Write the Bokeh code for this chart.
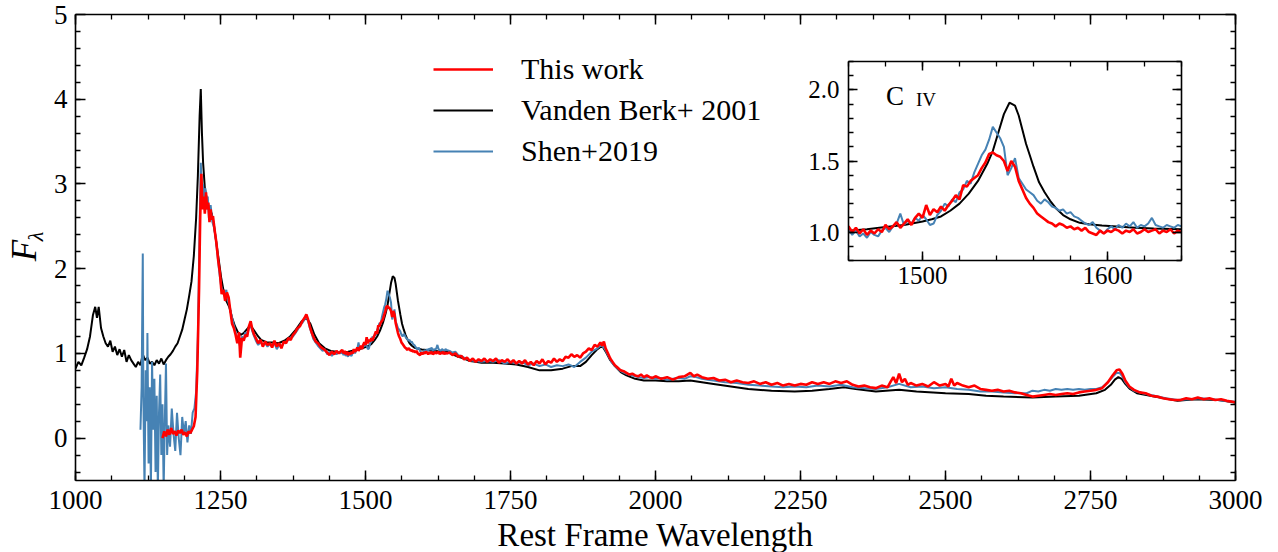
import math
from bokeh.plotting import figure
from bokeh.models import (Range1d, FixedTicker, LinearAxis, Legend, LegendItem,
                          CustomJSTickFormatter)
from bokeh.core.properties import value
from bokeh.layouts import column
from bokeh.embed import file_html
from bokeh.resources import INLINE

FONT = "Liberation Serif"

# ---------------- data ----------------
vdb_wave = [1000, 1005, 1010, 1015, 1020, 1025, 1030, 1034, 1037, 1040, 1044, 1048, 1052, 1056,
            1060, 1064, 1068, 1072, 1076, 1080, 1084, 1088, 1092, 1096, 1100, 1104, 1108, 1112,
            1116, 1120, 1124, 1128, 1132, 1136, 1140, 1144, 1148, 1152, 1156, 1160, 1164, 1168,
            1172, 1176, 1180, 1184, 1188, 1192, 1196, 1200, 1204, 1208, 1211, 1214, 1216, 1218,
            1220, 1223, 1227, 1231, 1235, 1239, 1243, 1247, 1251, 1255, 1260, 1265, 1270, 1275,
            1280, 1285, 1290, 1295, 1300, 1305, 1310, 1315, 1320, 1330, 1340, 1350, 1360, 1370,
            1380, 1390, 1398, 1405, 1412, 1420, 1430, 1440, 1450, 1460, 1470, 1480, 1490, 1500,
            1505, 1510, 1515, 1520, 1525, 1530, 1535, 1538, 1541, 1544, 1547, 1550, 1552, 1554,
            1556, 1558, 1560, 1563, 1566, 1569, 1572, 1576, 1580, 1585, 1590, 1597, 1605, 1615,
            1625, 1640, 1650, 1660, 1670, 1680, 1690, 1700, 1720, 1740, 1760, 1780, 1800, 1820,
            1840, 1855, 1870, 1880, 1890, 1900, 1908, 1915, 1922, 1930, 1940, 1950, 1965, 1980,
            2000, 2020, 2040, 2060, 2080, 2100, 2130, 2160, 2200, 2240, 2270, 2300, 2325, 2345,
            2380, 2420, 2450, 2500, 2540, 2570, 2600, 2650, 2690, 2730, 2760, 2775, 2785, 2792,
            2798, 2804, 2810, 2818, 2830, 2860, 2900, 2930, 2970, 3000]
vdb_flux = [0.82, 0.90, 0.86, 0.95, 1.05, 1.20, 1.45, 1.55, 1.42, 1.55, 1.30, 1.20, 1.12, 1.08,
            1.15, 1.02, 1.08, 0.98, 1.05, 0.96, 1.04, 0.90, 0.98, 0.92, 0.88, 0.84, 0.90, 0.86,
            0.99, 0.92, 0.95, 0.88, 0.90, 0.86, 0.92, 0.88, 0.94, 0.87, 0.92, 0.96, 0.99, 1.03,
            1.08, 1.12, 1.20, 1.28, 1.40, 1.52, 1.68, 1.85, 2.15, 2.60, 3.10, 3.80, 4.12, 3.60,
            3.25, 2.95, 2.80, 2.70, 2.65, 2.50, 2.30, 2.10, 1.90, 1.75, 1.62, 1.55, 1.42, 1.32,
            1.25, 1.22, 1.24, 1.28, 1.32, 1.30, 1.25, 1.20, 1.16, 1.13, 1.13, 1.12, 1.15, 1.20,
            1.28, 1.38, 1.42, 1.35, 1.22, 1.12, 1.06, 1.03, 1.02, 1.01, 1.02, 1.035, 1.05, 1.075,
            1.09, 1.11, 1.15, 1.20, 1.27, 1.36, 1.48, 1.57, 1.70, 1.83, 1.91, 1.89, 1.82, 1.72,
            1.62, 1.54, 1.46, 1.35, 1.28, 1.22, 1.17, 1.12, 1.09, 1.065, 1.055, 1.047, 1.04, 1.03,
            1.025, 1.02, 0.99, 0.96, 0.94, 0.91, 0.90, 0.89, 0.89, 0.88, 0.87, 0.84, 0.80, 0.80,
            0.82, 0.85, 0.85, 0.90, 0.98, 1.05, 1.09, 1.01, 0.92, 0.85, 0.78, 0.74, 0.70, 0.68,
            0.68, 0.67, 0.67, 0.68, 0.66, 0.64, 0.61, 0.58, 0.56, 0.55, 0.56, 0.58, 0.60, 0.58,
            0.55, 0.57, 0.55, 0.53, 0.52, 0.50, 0.49, 0.48, 0.49, 0.50, 0.53, 0.57, 0.63, 0.69,
            0.72, 0.70, 0.64, 0.58, 0.53, 0.49, 0.44, 0.46, 0.45, 0.42]

this_wave = [1150, 1153, 1156, 1159, 1162, 1165, 1168, 1171, 1174, 1177, 1180, 1183, 1186, 1189,
             1192, 1195, 1198, 1201, 1204, 1207, 1210, 1213, 1215, 1217, 1219, 1221, 1223, 1225,
             1227, 1229, 1231, 1233, 1235, 1237, 1240, 1243, 1246, 1249, 1252, 1255, 1258, 1261,
             1264, 1267, 1270, 1273, 1276, 1279, 1282, 1284, 1287, 1290, 1293, 1296, 1299, 1302,
             1305, 1308, 1311, 1315, 1319, 1323, 1327, 1331, 1335, 1339, 1343, 1347, 1351, 1355,
             1359, 1363, 1367, 1371, 1375, 1379, 1383, 1387, 1391, 1395, 1398, 1401, 1404, 1407,
             1410, 1414, 1418, 1422, 1426, 1430, 1434, 1438, 1442, 1446, 1450, 1454, 1458,
             1460, 1462, 1464, 1466, 1468, 1470, 1472, 1474, 1476, 1478, 1480, 1482, 1484, 1486,
             1488, 1490, 1492, 1494, 1496, 1498, 1500, 1502, 1504, 1506, 1508, 1510, 1512, 1514,
             1516, 1518, 1520, 1522, 1524, 1526, 1528, 1530, 1532, 1534, 1536, 1538, 1540, 1542,
             1544, 1546, 1548, 1550, 1552, 1554, 1556, 1558, 1560, 1562, 1564, 1566, 1568, 1570,
             1572, 1574, 1576, 1578, 1580, 1582, 1584, 1586, 1588, 1590, 1592, 1594, 1596, 1598,
             1600, 1602, 1604, 1606, 1608, 1610, 1612, 1614, 1616, 1618, 1620, 1622, 1624, 1626,
             1628, 1630, 1632, 1634, 1636, 1638, 1640,
             1645, 1650, 1655, 1660, 1665, 1670, 1675, 1680, 1685, 1690, 1695, 1700, 1705, 1710,
             1715, 1720, 1725, 1730, 1735, 1740, 1745, 1750, 1755, 1760, 1765, 1770, 1775, 1780,
             1785, 1790, 1795, 1800, 1805, 1810, 1815, 1820, 1825, 1830, 1835, 1840, 1845, 1850,
             1855, 1860, 1865, 1870, 1875, 1880, 1885, 1890, 1895, 1900, 1905, 1908, 1911, 1914,
             1918, 1922, 1926, 1930, 1935, 1940, 1945, 1950, 1955, 1960, 1965, 1970, 1975, 1980,
             1985, 1990, 1995, 2000, 2010, 2020, 2030, 2040, 2050, 2060, 2066, 2072, 2080, 2090,
             2100, 2110, 2120, 2130, 2140, 2150, 2160, 2170, 2180, 2190, 2200, 2210, 2220, 2230,
             2240, 2250, 2260, 2270, 2280, 2290, 2300, 2310, 2320, 2330, 2340, 2350, 2360, 2370,
             2380, 2390, 2400, 2405, 2410, 2415, 2420, 2425, 2430, 2435, 2440, 2450, 2460, 2470,
             2480, 2490, 2500, 2505, 2510, 2515, 2520, 2530, 2540, 2550, 2560, 2570, 2580, 2590,
             2600, 2610, 2620, 2630, 2640, 2650, 2660, 2670, 2680, 2690, 2700, 2710, 2720, 2730,
             2740, 2750, 2760, 2770, 2780, 2788, 2795, 2800, 2805, 2810, 2817, 2825, 2835, 2845,
             2855, 2865, 2875, 2885, 2895, 2905, 2915, 2925, 2935, 2945, 2955, 2965, 2975, 2985,
             2995, 3000]
this_flux = [0.00, 0.08, 0.02, 0.10, 0.04, 0.12, 0.05, 0.08, 0.03, 0.09, 0.06, 0.10, 0.04, 0.07,
             0.02, 0.08, 0.06, 0.10, 0.14, 0.25, 0.80, 1.75, 2.60, 3.12, 2.70, 2.85, 2.65, 2.90,
             2.70, 2.78, 2.55, 2.70, 2.58, 2.62, 2.45, 2.30, 2.10, 1.95, 1.70, 1.75, 1.62, 1.72,
             1.66, 1.50, 1.35, 1.30, 1.22, 1.12, 1.25, 0.95, 1.18, 1.15, 1.22, 1.20, 1.32, 1.38,
             1.28, 1.22, 1.18, 1.12, 1.16, 1.08, 1.14, 1.10, 1.12, 1.07, 1.15, 1.08, 1.12, 1.06,
             1.14, 1.12, 1.18, 1.16, 1.22, 1.25, 1.30, 1.32, 1.38, 1.42, 1.46, 1.40, 1.32, 1.25,
             1.20, 1.14, 1.12, 1.08, 1.06, 1.04, 1.01, 0.98, 1.02, 0.99, 1.03, 1.00, 1.03,
             1.04, 1.00, 1.03, 0.99, 1.02, 0.98, 1.01, 0.99, 1.02, 1.00, 1.05, 1.02, 1.04, 1.07,
             1.03, 1.06, 1.09, 1.05, 1.10, 1.13, 1.10, 1.19, 1.12, 1.16, 1.14, 1.18, 1.15, 1.19,
             1.22, 1.26, 1.23, 1.33, 1.32, 1.36, 1.38, 1.40, 1.45, 1.49, 1.55, 1.56, 1.54, 1.53,
             1.50, 1.43, 1.50, 1.46, 1.36, 1.30, 1.24, 1.20, 1.17, 1.13, 1.11, 1.09, 1.07, 1.06,
             1.04, 1.06, 1.05, 1.03, 1.04, 1.02, 1.03, 1.01, 1.03, 1.00, 0.99, 0.98, 1.01, 0.99,
             1.01, 1.00, 1.02, 1.01, 0.99, 1.01, 1.00, 1.02, 0.99, 1.00, 1.02, 1.00, 1.01, 1.02,
             0.99, 1.01, 1.00, 1.02, 0.99, 1.01, 1.00,
             1.01, 0.98, 1.00, 0.96, 0.97, 0.93, 0.95, 0.91, 0.94, 0.90, 0.93, 0.91, 0.94, 0.90,
             0.93, 0.91, 0.94, 0.89, 0.92, 0.90, 0.93, 0.89, 0.92, 0.88, 0.91, 0.88, 0.92, 0.87,
             0.90, 0.86, 0.91, 0.88, 0.93, 0.87, 0.91, 0.89, 0.94, 0.90, 0.93, 0.91, 0.96, 0.95,
             0.99, 0.96, 0.98, 0.95, 1.00, 1.02, 1.06, 1.04, 1.10, 1.08, 1.13, 1.09, 1.14, 1.06,
             1.00, 0.94, 0.90, 0.86, 0.83, 0.80, 0.79, 0.77, 0.75, 0.76, 0.74, 0.73, 0.75, 0.72,
             0.74, 0.72, 0.71, 0.73, 0.70, 0.72, 0.69, 0.72, 0.73, 0.77, 0.73, 0.75, 0.72, 0.70,
             0.71, 0.68, 0.69, 0.66, 0.68, 0.66, 0.65, 0.67, 0.64, 0.66, 0.63, 0.65, 0.62, 0.64,
             0.62, 0.64, 0.63, 0.66, 0.64, 0.66, 0.64, 0.67, 0.65, 0.67, 0.63, 0.61, 0.62, 0.60,
             0.59, 0.62, 0.60, 0.66, 0.72, 0.65, 0.76, 0.66, 0.70, 0.63, 0.65, 0.62, 0.64, 0.61,
             0.66, 0.62, 0.64, 0.61, 0.70, 0.62, 0.65, 0.62, 0.60, 0.62, 0.58, 0.57, 0.56, 0.57,
             0.55, 0.56, 0.54, 0.53, 0.51, 0.49, 0.50, 0.51, 0.52, 0.51, 0.52, 0.53, 0.52, 0.54,
             0.55, 0.56, 0.57, 0.59, 0.66, 0.74, 0.80, 0.81, 0.76, 0.68, 0.61, 0.57, 0.54, 0.53,
             0.50, 0.49, 0.47, 0.46, 0.45, 0.45, 0.47, 0.46, 0.48, 0.46, 0.47, 0.45, 0.46, 0.44,
             0.43, 0.42]

shen_wave = [1112, 1114, 1116, 1117, 1119, 1121, 1123, 1124, 1126, 1128, 1130, 1132, 1134, 1136,
             1138, 1140, 1142, 1144, 1146, 1148, 1150, 1152, 1154, 1156, 1158, 1160, 1163, 1166,
             1169, 1172, 1175, 1178, 1181, 1184, 1187, 1190, 1193, 1196, 1199, 1202, 1205, 1208,
             1211, 1214, 1216, 1218, 1220, 1222, 1224, 1226, 1228, 1230, 1233, 1236, 1239, 1242,
             1245, 1248, 1251, 1254, 1257, 1260, 1263, 1266, 1269, 1272, 1275, 1278, 1281, 1284,
             1287, 1290, 1293, 1296, 1299, 1302, 1305, 1308, 1311, 1315, 1319, 1323, 1327, 1331,
             1335, 1339, 1343, 1347, 1351, 1355, 1359, 1363, 1367, 1371, 1375, 1379, 1383, 1387,
             1391, 1395, 1398, 1401, 1404, 1407, 1410, 1414, 1418, 1422, 1426, 1430, 1434, 1438,
             1442, 1446, 1450, 1454, 1458,
             1460, 1462, 1464, 1466, 1468, 1470, 1472, 1474, 1476, 1478, 1480, 1482, 1484, 1486,
             1488, 1490, 1492, 1494, 1496, 1498, 1500, 1502, 1504, 1506, 1508, 1510, 1512, 1514,
             1516, 1518, 1520, 1522, 1524, 1526, 1528, 1530, 1532, 1534, 1536, 1538, 1540, 1542,
             1544, 1546, 1548, 1550, 1552, 1554, 1556, 1558, 1560, 1562, 1564, 1566, 1568, 1570,
             1572, 1574, 1576, 1578, 1580, 1582, 1584, 1586, 1588, 1590, 1592, 1594, 1596, 1598,
             1600, 1602, 1604, 1606, 1608, 1610, 1612, 1614, 1616, 1618, 1620, 1622, 1624, 1626,
             1628, 1630, 1632, 1634, 1636, 1638, 1640,
             1645, 1650, 1655, 1660, 1665, 1670, 1680, 1690, 1700, 1710, 1720, 1730, 1740, 1750,
             1760, 1770, 1780, 1790, 1800, 1810, 1820, 1830, 1840, 1850, 1860, 1870, 1880, 1890,
             1900, 1906, 1912, 1918, 1924, 1930, 1940, 1950, 1960, 1970, 1980, 1990, 2000, 2010,
             2020, 2030, 2040, 2050, 2060, 2070, 2080, 2090, 2100, 2120, 2140, 2160, 2180, 2200,
             2220, 2240, 2260, 2280, 2300, 2320, 2340, 2360, 2380, 2400, 2420, 2440, 2460, 2480,
             2500, 2520, 2540, 2560, 2580, 2600, 2620, 2640, 2650, 2660, 2670, 2680, 2690, 2700,
             2710, 2720, 2730, 2740, 2750, 2760, 2770, 2780, 2788, 2795, 2800, 2805, 2810, 2817,
             2825, 2840, 2860, 2880, 2900, 2920, 2940, 2960, 2980, 3000]
shen_flux = [0.10, 0.60, 2.18, 0.50, -0.60, 0.80, 0.20, 1.24, -0.30, 0.60, -0.60, 0.90, 0.10, 0.70,
             -0.40, 0.50, -0.60, 0.30, 0.75, -0.20, 0.40, -0.60, 0.20, 0.88, -0.20, 0.15, -0.10, 0.35,
             0.05, -0.15, 0.30, 0.00, -0.20, 0.25, 0.05, 0.20, -0.05, 0.15, 0.05, 0.30, 0.35, 0.55,
             1.20, 2.50, 3.25, 2.90, 3.00, 2.75, 2.95, 2.70, 2.85, 2.60, 2.75, 2.55, 2.48, 2.35,
             2.15, 1.95, 1.80, 1.72, 1.68, 1.75, 1.62, 1.55, 1.45, 1.36, 1.28, 1.20, 1.15, 1.08,
             1.20, 1.17, 1.25, 1.22, 1.30, 1.33, 1.26, 1.20, 1.15, 1.10, 1.13, 1.10, 1.12, 1.08,
             1.11, 1.09, 1.12, 1.05, 1.10, 1.08, 1.12, 1.14, 1.16, 1.19, 1.20, 1.24, 1.28, 1.33,
             1.36, 1.40, 1.44, 1.38, 1.30, 1.24, 1.17, 1.13, 1.09, 1.06, 1.03, 1.05, 0.99, 1.02,
             0.97, 1.01, 0.99, 1.02, 1.00,
             1.02, 0.98, 1.01, 0.97, 0.99, 0.96, 1.00, 0.98, 0.97, 1.01, 1.03, 1.00, 1.04, 1.06,
             1.13, 1.05, 1.08, 1.06, 1.10, 1.08, 1.12, 1.09, 1.05, 1.06, 1.12, 1.15, 1.20, 1.18,
             1.23, 1.21, 1.28, 1.30, 1.36, 1.34, 1.42, 1.48, 1.54, 1.58, 1.65, 1.74, 1.70, 1.66,
             1.60, 1.40, 1.45, 1.52, 1.38, 1.34, 1.30, 1.28, 1.26, 1.22, 1.20, 1.23, 1.21, 1.18,
             1.17, 1.15, 1.16, 1.13, 1.14, 1.11, 1.10, 1.08, 1.06, 1.05, 1.07, 1.03, 1.01, 0.99,
             1.02, 1.04, 1.02, 1.05, 1.03, 1.06, 1.04, 1.07, 1.03, 1.05, 1.04, 1.06, 1.10, 1.05,
             1.04, 1.03, 1.05, 1.04, 1.03, 1.05, 1.04,
             1.03, 1.01, 1.02, 0.98, 0.97, 0.95, 0.92, 0.91, 0.90, 0.91, 0.90, 0.92, 0.88, 0.90,
             0.88, 0.90, 0.86, 0.88, 0.85, 0.87, 0.84, 0.86, 0.85, 0.87, 0.84, 0.90, 0.95, 1.02,
             1.06, 1.10, 1.06, 0.98, 0.90, 0.85, 0.79, 0.76, 0.74, 0.72, 0.71, 0.72, 0.70, 0.71,
             0.69, 0.70, 0.71, 0.70, 0.73, 0.72, 0.70, 0.69, 0.68, 0.66, 0.65, 0.63, 0.62, 0.61,
             0.60, 0.61, 0.60, 0.62, 0.61, 0.63, 0.60, 0.59, 0.58, 0.60, 0.64, 0.60, 0.61, 0.59,
             0.60, 0.58, 0.57, 0.55, 0.55, 0.54, 0.53, 0.53, 0.56, 0.55, 0.57, 0.56, 0.58, 0.57,
             0.58, 0.57, 0.58, 0.57, 0.58, 0.58, 0.60, 0.66, 0.72, 0.77, 0.77, 0.73, 0.66, 0.60,
             0.56, 0.53, 0.50, 0.47, 0.45, 0.46, 0.47, 0.46, 0.44, 0.43]

labels = ["This work", "Vanden Berk+ 2001", "Shen+2019"]
colors = ["#ff0000", "#000000", "#4682b4"]

x_major = [1000, 1250, 1500, 1750, 2000, 2250, 2500, 2750, 3000]
y_major = [0, 1, 2, 3, 4, 5]
inset_x_major = [1500, 1600]
inset_y_major = [1.0, 1.5, 2.0]
x_title = "Rest Frame Wavelength"
y_title = ("F", "λ")
inset_title = ("C", "IV")

blank = CustomJSTickFormatter(code="return '';")


def style_axis(ax, show_labels, size="27px", major_len=10, minor_len=5):
    ax.axis_line_width = 1.6
    ax.axis_line_color = "black"
    ax.major_tick_in = major_len
    ax.major_tick_out = 0
    ax.minor_tick_in = minor_len
    ax.minor_tick_out = 0
    ax.major_tick_line_width = 1.5
    ax.minor_tick_line_width = 1.3
    ax.major_label_text_font = FONT
    ax.major_label_text_color = "black"
    ax.major_label_text_font_size = size
    if show_labels:
        ax.major_label_standoff = 10
    else:
        ax.major_label_standoff = 0
        ax.formatter = blank
    ax.axis_label = None


# ---------------- main figure ----------------
p = figure(width=1278, height=552, output_backend="svg", toolbar_location=None,
           x_range=Range1d(1000, 3000), y_range=Range1d(-0.5, 5),
           min_border_left=75, min_border_right=43, min_border_top=14, min_border_bottom=72)
p.xgrid.visible = False
p.ygrid.visible = False
p.outline_line_color = None
p.background_fill_color = "white"
p.border_fill_color = "white"

p.add_layout(LinearAxis(), "above")
p.add_layout(LinearAxis(), "right")

x_minor = [1000 + 62.5 * i for i in range(33)]
y_minor = [round(-0.4 + 0.2 * i, 2) for i in range(27)]
for ax in p.xaxis:
    ax.ticker = FixedTicker(ticks=x_major, minor_ticks=x_minor)
for ax in p.yaxis:
    ax.ticker = FixedTicker(ticks=y_major, minor_ticks=y_minor)
style_axis(p.below[0], True)
style_axis(p.left[0], True)
style_axis(p.above[0], False)
style_axis(p.right[0], False)
p.left[0].major_label_standoff = 8

r_vdb = p.line(vdb_wave, vdb_flux, color=colors[1], line_width=2.0)
r_shen = p.line(shen_wave, shen_flux, color=colors[2], line_width=2.0)
r_this = p.line(this_wave, this_flux, color=colors[0], line_width=2.6)

legend = Legend(items=[LegendItem(label=labels[0], renderers=[r_this]),
                       LegendItem(label=labels[1], renderers=[r_vdb]),
                       LegendItem(label=labels[2], renderers=[r_shen])],
                location=(358, 312))
legend.border_line_color = None
legend.background_fill_alpha = 0
legend.label_text_font = FONT
legend.label_text_font_size = "30px"
legend.label_text_color = "black"
legend.glyph_width = 60
legend.glyph_height = 30
legend.label_height = 30
legend.label_standoff = 28
legend.spacing = 7
legend.padding = 0
legend.margin = 0
p.add_layout(legend)

# ---------------- inset ----------------
ins = figure(width=451, height=239, output_backend="svg", toolbar_location=None,
             x_range=Range1d(1460, 1640), y_range=Range1d(0.8, 2.2),
             min_border_left=75, min_border_right=43, min_border_top=4, min_border_bottom=36,
             styles={"position": "absolute", "left": "773px", "top": "57px"})
ins.xgrid.visible = False
ins.ygrid.visible = False
ins.outline_line_color = None
ins.background_fill_color = "white"
ins.border_fill_color = None
ins.add_layout(LinearAxis(), "above")
ins.add_layout(LinearAxis(), "right")
for ax in ins.xaxis:
    ax.ticker = FixedTicker(ticks=inset_x_major, minor_ticks=[1460 + 20 * i for i in range(10)])
for ax in ins.yaxis:
    ax.ticker = FixedTicker(ticks=inset_y_major, minor_ticks=[round(0.8 + 0.1 * i, 2) for i in range(15)])
style_axis(ins.below[0], True, size="25px", major_len=9, minor_len=5)
style_axis(ins.left[0], True, size="25px", major_len=9, minor_len=5)
style_axis(ins.above[0], False, major_len=9, minor_len=5)
style_axis(ins.right[0], False, major_len=9, minor_len=5)
ins.below[0].major_label_standoff = 6
ins.left[0].formatter = CustomJSTickFormatter(code="return tick.toFixed(1);")
ins.left[0].major_label_standoff = 9

ins.line(vdb_wave, vdb_flux, color=colors[1], line_width=2.0)
ins.line(shen_wave, shen_flux, color=colors[2], line_width=2.0)
ins.line(this_wave, this_flux, color=colors[0], line_width=2.6)

ins.text(x=[1480.3], y=[1.954], text=[inset_title[0]], text_font=value(FONT),
         text_font_size="27px", text_baseline="middle", text_align="left", text_color="black")
ins.text(x=[1496.5], y=[1.933], text=[inset_title[1]], text_font=value(FONT),
         text_font_size="19px", text_baseline="middle", text_align="left", text_color="black")

# ---------------- overlay for the axis titles (page pixel coordinates) ----------------
ann = figure(width=1278, height=552, output_backend="svg", toolbar_location=None,
             x_range=Range1d(0, 1278), y_range=Range1d(552, 0),
             x_axis_type=None, y_axis_type=None,
             min_border_left=0, min_border_right=0, min_border_top=0, min_border_bottom=0,
             styles={"position": "absolute", "left": "0px", "top": "0px"})
try:
    ann.frame_align = False
except Exception:
    pass
ann.xgrid.visible = False
ann.ygrid.visible = False
ann.outline_line_color = None
ann.background_fill_color = None
ann.border_fill_color = None
ann.text(x=[655], y=[534], text=[x_title], text_font=value(FONT), text_font_size="33px",
         text_align="center", text_baseline="middle", text_color="black")
ann.text(x=[24], y=[250], text=[y_title[0]], angle=math.pi / 2, text_font=value(FONT),
         text_font_style="italic", text_font_size="35px", text_align="center",
         text_baseline="middle", text_color="black")
ann.text(x=[35], y=[236], text=[y_title[1]], angle=math.pi / 2, text_font=value(FONT),
         text_font_style="italic", text_font_size="22px", text_align="center",
         text_baseline="middle", text_color="black")

layout = column(p, ins, ann)
open("out.html", "w").write(file_html(layout, INLINE))
